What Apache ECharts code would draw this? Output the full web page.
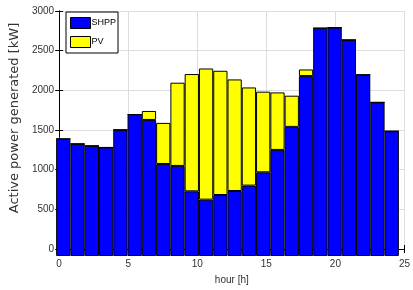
<!DOCTYPE html>
<html>
<head>
<meta charset="utf-8">
<script src="https://cdn.jsdelivr.net/npm/echarts@6/dist/echarts.min.js"></script>
<style>
  html, body { margin: 0; padding: 0; background: #fff; }
  #main { width: 413px; height: 290px; }
</style>
</head>
<body>
<div id="main"></div>
<script>
// hours 1..24
const hours = [1, 2, 3, 4, 5, 6, 7, 8, 9, 10, 11, 12, 13, 14, 15, 16, 17, 18, 19, 20, 21, 22, 23, 24];
// small hydro power plant output [kW]
const shpp = [1434, 1373, 1349, 1329, 1545, 1731, 1666, 1127, 1103, 792, 690, 747, 796, 862, 1025, 1299, 1581, 2203, 2790, 2797, 2646, 2219, 1881, 1528];
// photovoltaic output [kW]
const pv = [0, 0, 0, 0, 0, 0, 110, 503, 1019, 1436, 1606, 1521, 1366, 1202, 987, 704, 382, 81, 0, 0, 0, 0, 0, 0];
const xTicks = [0, 5, 10, 15, 20, 25];
const yTicks = [0, 500, 1000, 1500, 2000, 2500, 3000];

const chart = echarts.init(document.getElementById('main'));
const narrow = 'Liberation Sans Narrow, Liberation Sans, Arial';
const tickFont = { fontFamily: narrow, fontSize: 10, color: '#333' };
const barStyle = (c) => ({ color: c, borderColor: '#000', borderWidth: 1 });

// plot box in pixels; bars live in an inner grid spanning hour 0.5 .. 24.5
const G = { left: 49, right: 7, top: 11, bottom: 34 };
const unit = (413 - G.left - G.right) / (xTicks[xTicks.length - 1] - xTicks[0]);

chart.setOption({
  animation: false,
  grid: [
    G,
    { left: G.left + unit * 0.5, right: G.right + unit * 0.5, top: G.top, bottom: G.bottom }
  ],
  legend: {
    orient: 'vertical',
    left: 66, top: 12,
    itemWidth: 20, itemHeight: 11, itemGap: 7,
    padding: [5, 2, 5, 4],
    borderColor: '#000', borderWidth: 1,
    backgroundColor: '#fff',
    icon: 'rect',
    textStyle: { fontFamily: narrow, fontSize: 9, color: '#000', padding: [0, 0, 0, -4] },
    itemStyle: { borderColor: '#000', borderWidth: 1 },
    data: ['SHPP', 'PV']
  },
  xAxis: [{
    gridIndex: 0, type: 'value', min: xTicks[0], max: xTicks[xTicks.length - 1], interval: 5,
    name: 'hour [h]', nameLocation: 'middle', nameGap: 26,
    nameTextStyle: { fontFamily: narrow, fontSize: 10, color: '#333' },
    axisLine: { lineStyle: { color: '#000' } },
    axisTick: { inside: true, length: 4, lineStyle: { color: '#000' } },
    axisLabel: Object.assign({ margin: 10 }, tickFont),
    splitLine: { show: true, lineStyle: { color: '#ddd' } }
  }, {
    gridIndex: 0, type: 'value', position: 'top', min: 0, max: 25, interval: 5,
    axisLine: { show: true, lineStyle: { color: '#000' } },
    axisTick: { inside: true, length: 4, lineStyle: { color: '#000' } },
    axisLabel: { show: false }, splitLine: { show: false }
  }, {
    gridIndex: 1, type: 'category', data: hours, show: false
  }],
  yAxis: [{
    gridIndex: 0, type: 'value', min: yTicks[0], max: yTicks[yTicks.length - 1], interval: 500,
    name: 'Active power generated [kW]', nameLocation: 'middle', nameGap: 37,
    nameTextStyle: { fontFamily: 'DejaVu Sans', fontSize: 13, color: '#333', padding: [0, 0, 0, 24] },
    axisLine: { show: true, lineStyle: { color: '#000' } },
    axisTick: { show: true, inside: true, length: 4, lineStyle: { color: '#000' } },
    axisLabel: Object.assign({ margin: 5, formatter: (v) => String(v) }, tickFont),
    splitLine: { show: true, lineStyle: { color: '#ddd' } }
  }, {
    gridIndex: 0, type: 'value', position: 'right', min: 0, max: 3000, interval: 500,
    axisLine: { show: true, lineStyle: { color: '#000' } },
    axisTick: { show: true, inside: true, length: 4, lineStyle: { color: '#000' } },
    axisLabel: { show: false }, splitLine: { show: false }
  }, {
    gridIndex: 1, type: 'value', min: 0, max: 3000, show: false, splitLine: { show: false }
  }],
  series: [{
    name: 'SHPP', type: 'bar', stack: 'p', xAxisIndex: 2, yAxisIndex: 2,
    barWidth: '100%', barCategoryGap: 0,
    itemStyle: barStyle('#0000ff'),
    data: shpp
  }, {
    name: 'PV', type: 'bar', stack: 'p', xAxisIndex: 2, yAxisIndex: 2,
    barWidth: '100%', barCategoryGap: 0,
    itemStyle: barStyle('#ffff00'),
    data: pv
  }]
});
</script>
</body>
</html>
